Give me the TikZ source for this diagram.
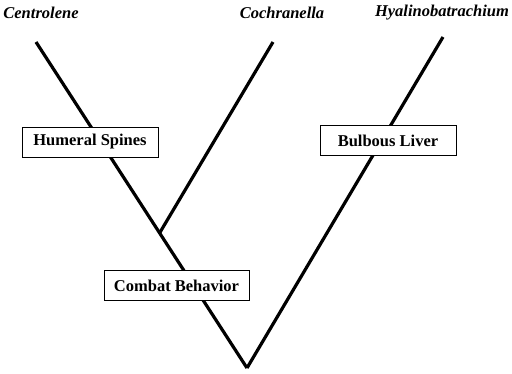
\documentclass[tikz,border=0pt]{standalone}
\usepackage{fontspec}
\setmainfont{Liberation Serif}

\tikzset{taxonnode/.style={font=\fontsize{16.5}{18}\selectfont\bfseries\itshape, inner sep=0pt}}
\tikzset{traitnode/.style={rectangle, draw, line width=0.8pt, fill=white, font=\fontsize{16.5}{18}\selectfont\bfseries, minimum width=136pt, minimum height=30pt, inner xsep=10pt}}
\tikzset{branch/.style={line width=3.2pt}}

\begin{document}
\begin{tikzpicture}[x=1pt, y=-1pt]
		\useasboundingbox (0,0) rectangle (512,373);

		%taxa
		\node[taxonnode] (centrolene) at (41, 13) {Centrolene};
		\node[taxonnode] (cochranella) at (282, 13) {Cochranella};
		\node[taxonnode] (hyalino) at (442, 13) {Hyalinobatrachium};

		%branch points
		\coordinate (cenTip) at (36, 42);
		\coordinate (cochTip) at (273, 42);
		\coordinate (hyaTip) at (443, 37);
		\coordinate (split) at (159.6, 233);
		\coordinate (root) at (247, 368);

		%branches
		\path[branch] (cenTip) edge (root);
		\path[branch] (cochTip) edge (split);
		\path[branch] (hyaTip) edge (root);

		%characters
		\node[traitnode] (humeral) at (90, 142) {Humeral Spines};
		\node[traitnode] (liver) at (388, 140.5) {Bulbous Liver};
		\node[traitnode, minimum width=143pt] (combat) at (176.5, 285.5) {Combat Behavior};

\end{tikzpicture}
\end{document}
